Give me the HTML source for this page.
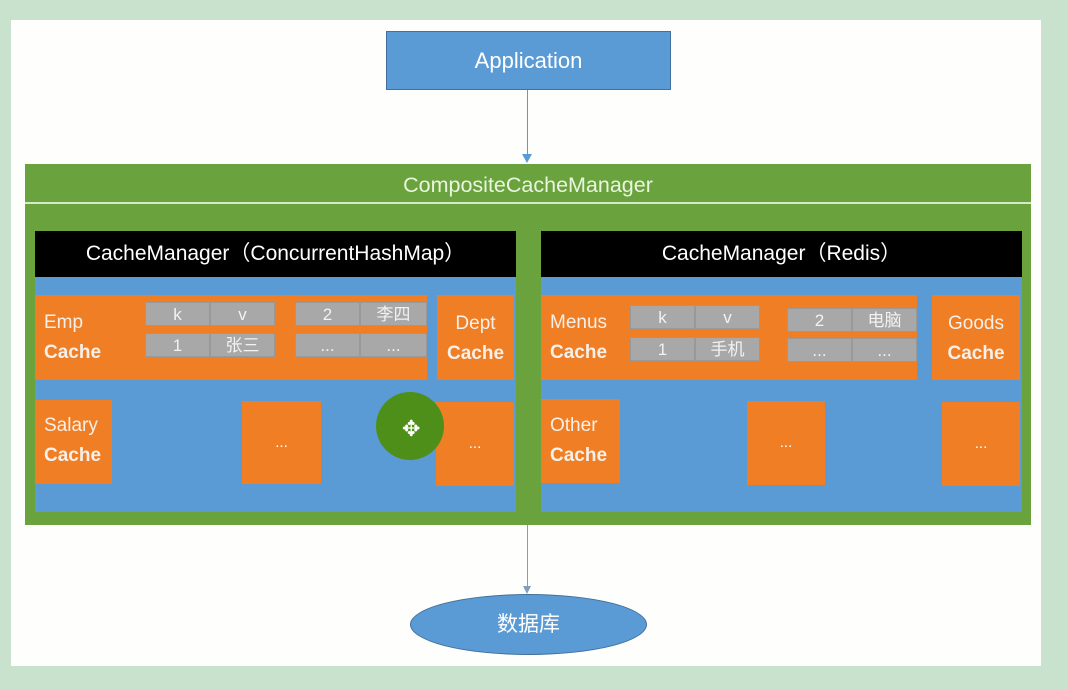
<!DOCTYPE html>
<html><head><meta charset="utf-8"><style>
body{margin:0;width:1068px;height:690px;background:#c9e2cd;position:relative;overflow:hidden;font-family:"Liberation Sans","Noto Sans CJK SC",sans-serif;}
div{position:absolute;box-sizing:border-box;}
.o{background:#f07e24;color:#f6f0ea;font-size:19px;line-height:30px;padding-left:9px;}
.o b{font-weight:bold;}
.g{background:#a8a8a8;color:#f2f2f2;font-size:17px;text-align:center;line-height:23px;border:1px solid #999;}
.d{background:#f07e24;color:#fff;font-size:15px;text-align:center;}
.bl{background:#5b9bd5;}
.hd{background:#000;color:#fff;font-size:21px;text-align:center;line-height:46px;}
</style></head><body>
<div style="left:11px;top:20px;width:1030px;height:646px;background:#fefefd;"></div>
<div style="left:386px;top:31px;width:285px;height:59px;background:#5b9bd5;border:1px solid #41719c;color:#fff;font-size:22px;text-align:center;line-height:57px;">Application</div>
<div style="left:527px;top:90px;width:1px;height:68px;background:#5b9bd5;"></div>
<div style="left:522px;top:154px;width:0;height:0;border-left:5px solid transparent;border-right:5px solid transparent;border-top:9px solid #5b9bd5;"></div>
<div style="left:25px;top:164px;width:1006px;height:361px;background:#6aa23e;"></div>
<div style="left:25px;top:164px;width:1006px;height:38px;color:#eaf5e0;font-size:21.5px;text-align:center;line-height:42px;">CompositeCacheManager</div>
<div style="left:25px;top:202px;width:1006px;height:2px;background:#d6e9c8;"></div>

<div class="bl" style="left:35px;top:231px;width:481px;height:281px;"></div>
<div class="hd" style="left:35px;top:231px;width:481px;height:46px;">CacheManager（ConcurrentHashMap）</div>
<div class="o" style="left:35px;top:295px;width:392px;height:85px;padding-top:13px;">Emp<br><b>Cache</b></div>
<div class="g" style="left:145px;top:302px;width:65px;height:24px;">k</div>
<div class="g" style="left:210px;top:302px;width:65px;height:24px;">v</div>
<div class="g" style="left:145px;top:333px;width:65px;height:24px;">1</div>
<div class="g" style="left:210px;top:333px;width:65px;height:24px;">张三</div>
<div class="g" style="left:295px;top:302px;width:65px;height:24px;">2</div>
<div class="g" style="left:360px;top:302px;width:67px;height:24px;">李四</div>
<div class="g" style="left:295px;top:333px;width:65px;height:24px;">...</div>
<div class="g" style="left:360px;top:333px;width:67px;height:24px;">...</div>
<div class="o" style="left:437px;top:295px;width:77px;height:85px;padding-top:14px;text-align:center;padding-left:0;">Dept<br><b>Cache</b></div>
<div class="o" style="left:35px;top:400px;width:77px;height:84px;padding-top:11px;">Salary<br><b>Cache</b></div>
<div class="d" style="left:242px;top:401px;width:79px;height:83px;line-height:83px;">...</div>
<div class="d" style="left:436px;top:402px;width:78px;height:84px;line-height:84px;">...</div>
<div style="left:376px;top:392px;width:68px;height:68px;border-radius:50%;background:#4e8f1a;"></div>
<div style="left:402px;top:418px;color:#fff;font-size:22px;line-height:22px;">✥</div>

<div class="bl" style="left:541px;top:231px;width:481px;height:281px;"></div>
<div class="hd" style="left:541px;top:231px;width:481px;height:46px;">CacheManager（Redis）</div>
<div class="o" style="left:541px;top:295px;width:376px;height:85px;padding-top:13px;">Menus<br><b>Cache</b></div>
<div class="g" style="left:630px;top:305px;width:65px;height:24px;">k</div>
<div class="g" style="left:695px;top:305px;width:65px;height:24px;">v</div>
<div class="g" style="left:630px;top:337px;width:65px;height:24px;">1</div>
<div class="g" style="left:695px;top:337px;width:65px;height:24px;">手机</div>
<div class="g" style="left:787px;top:308px;width:65px;height:24px;">2</div>
<div class="g" style="left:852px;top:308px;width:65px;height:24px;">电脑</div>
<div class="g" style="left:787px;top:338px;width:65px;height:24px;">...</div>
<div class="g" style="left:852px;top:338px;width:65px;height:24px;">...</div>
<div class="o" style="left:932px;top:295px;width:88px;height:85px;padding-top:14px;text-align:center;padding-left:0;">Goods<br><b>Cache</b></div>
<div class="o" style="left:541px;top:399px;width:79px;height:84px;padding-top:12px;">Other<br><b>Cache</b></div>
<div class="d" style="left:747px;top:401px;width:78px;height:84px;line-height:84px;">...</div>
<div class="d" style="left:942px;top:402px;width:78px;height:84px;line-height:84px;">...</div>

<div style="left:527px;top:525px;width:1px;height:64px;background:#7f9fbf;"></div>
<div style="left:523px;top:586px;width:0;height:0;border-left:4px solid transparent;border-right:4px solid transparent;border-top:8px solid #7f9fbf;"></div>
<div style="left:410px;top:594px;width:237px;height:61px;border-radius:50%;background:#5b9bd5;border:1px solid #41719c;color:#fff;font-size:21px;text-align:center;line-height:59px;">数据库</div>
</body></html>
